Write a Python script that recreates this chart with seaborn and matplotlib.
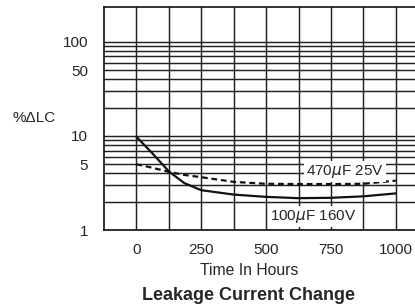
import matplotlib
matplotlib.use("Agg")
import matplotlib.pyplot as plt
import seaborn as sns
import pandas as pd

# values
hours = [0, 60, 125, 185, 250, 375, 500, 625, 750, 875, 1000]
lc_100uf = [9.8, 6.6, 4.2, 3.15, 2.65, 2.38, 2.25, 2.18, 2.2, 2.28, 2.45]
lc_470uf = [5.0, 4.6, 4.15, 3.85, 3.64, 3.25, 3.1, 3.08, 3.08, 3.1, 3.35]
x_ticks = [0, 250, 500, 750, 1000]
y_ticks = [1, 5, 10, 50, 100]

data = pd.DataFrame({"hours": hours + hours,
                     "lc": lc_100uf + lc_470uf,
                     "part": ["100uF 160V"] * len(hours) + ["470uF 25V"] * len(hours)})

sns.set_theme(style="ticks")
plt.rcParams['font.family'] = ['Liberation Sans', 'DejaVu Sans']

fig = plt.figure(figsize=(4.15, 3.04), dpi=100)
ax = fig.add_axes([104 / 415, 74 / 304, 1 - 104 / 415 + 0.01, (230 - 7) / 304])

sns.lineplot(data=data, x="hours", y="lc", style="part", color="#111111",
             dashes={"100uF 160V": "", "470uF 25V": (2.6, 1.7)},
             linewidth=1.6, legend=False, ax=ax, zorder=3)

ax.set_yscale("log")
ax.set_xlim(-125, 1090)
ax.set_ylim(1, 235)
ax.set_xticks(x_ticks)
ax.set_xticks([125, 375, 625, 875], minor=True)
ax.set_yticks(y_ticks)
ax.set_yticklabels([str(v) for v in y_ticks])
ax.set_yticks([2, 3, 4, 6, 7, 8, 9, 20, 30, 40, 60, 70, 80, 90], minor=True)
ax.yaxis.set_minor_formatter(plt.NullFormatter())
ax.grid(True, which="both", color="#222222", linewidth=1.05)
ax.tick_params(axis="both", which="both", length=0, labelsize=11)
ax.tick_params(axis="y", pad=11.5)
ax.tick_params(axis="x", pad=9)
ax.set_xlabel("")
ax.set_ylabel("")
for side in ["left", "top", "bottom"]:
    ax.spines[side].set_color("#111111")
    ax.spines[side].set_linewidth(1.2)
ax.spines["right"].set_visible(False)

box = dict(facecolor="white", edgecolor="none", pad=1.5)
ax.text(803, 4.2, r"470$\mu$F 25V", ha="center", va="center", fontsize=11,
        bbox=box, zorder=4)
ax.text(683, 1.39, r"100$\mu$F 160V", ha="center", va="center", fontsize=11,
        bbox=box, zorder=4)

fig.text(34 / 415, 1 - 118 / 304, "%ΔLC", ha="center", va="center", fontsize=11)
fig.text(249 / 415, 29 / 304, "Time In Hours", ha="center", va="baseline", fontsize=11.3)
fig.text(248 / 415, 4 / 304, "Leakage Current Change", ha="center", va="baseline",
         fontsize=13, fontweight="bold")

fig.savefig("out.png", dpi=100)
